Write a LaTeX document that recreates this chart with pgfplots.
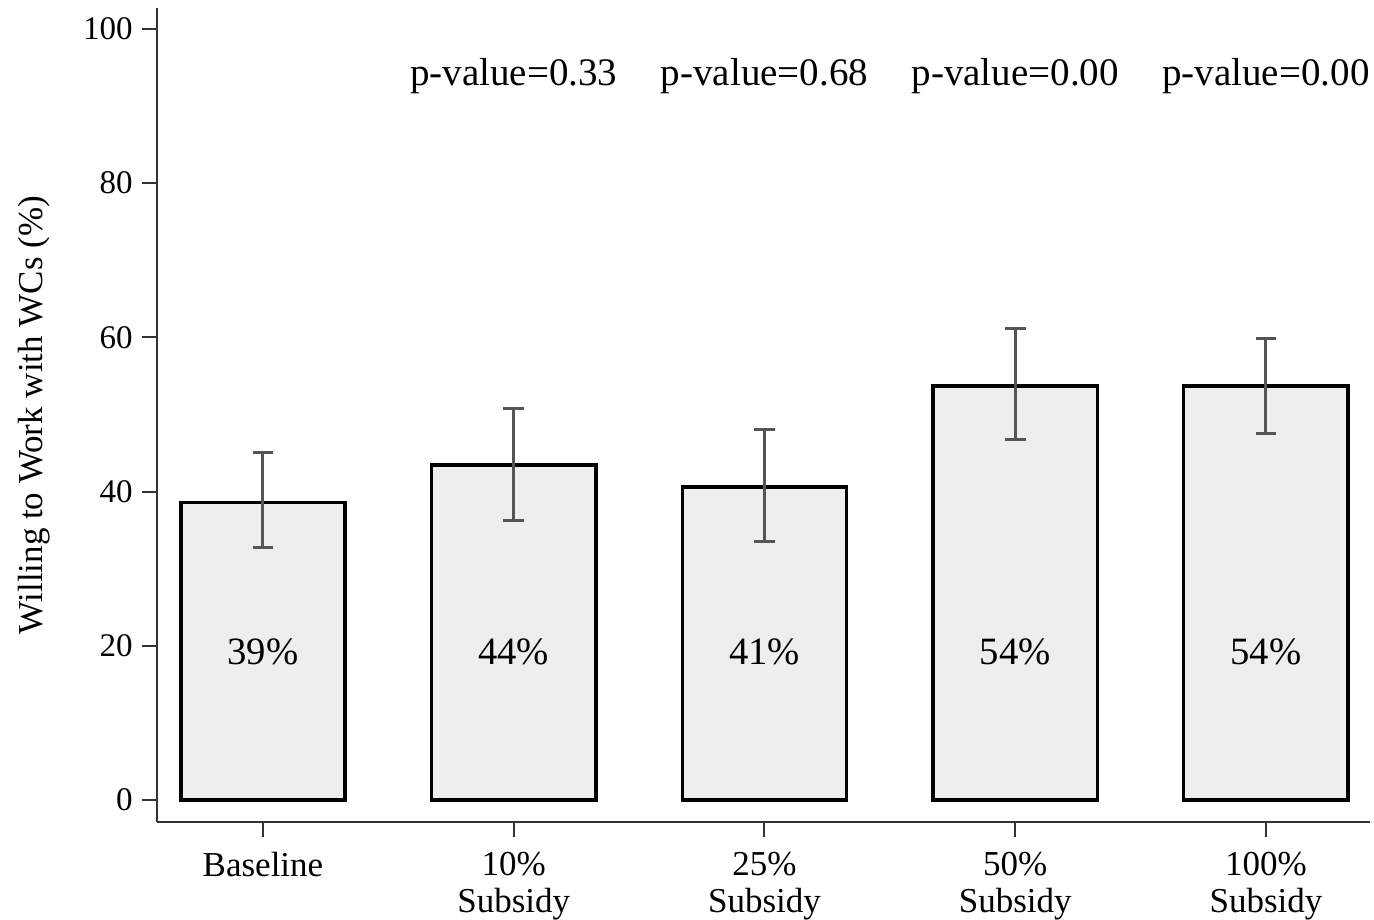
\documentclass[border=0pt]{standalone}
\usepackage{pgfplots}
\pgfplotsset{compat=1.18}
\usepackage{fontspec}
\setmainfont{Liberation Serif}
\definecolor{barfill}{HTML}{EEEEEE}
\definecolor{errc}{HTML}{555555}
\definecolor{axc}{HTML}{333333}
\begin{document}
\begin{tikzpicture}
\path[use as bounding box] (-47.1pt,-29.1pt) rectangle (365.1pt,246.6pt);
\begin{axis}[
  at={(0pt,0pt)}, anchor=south west,
  scale only axis,
  width=363.9pt, height=244.2pt,
  xmin=-0.4227, xmax=4.415,
  ymin=-2.85, ymax=102.7,
  axis x line*=bottom, axis y line*=left,
  axis line style={draw=axc, line width=0.6pt, -},
  tick align=outside,
  major tick length=4.6pt,
  tick style={draw=axc, line width=0.6pt},
  xtick={0,1,2,3,4},
  xticklabels={Baseline,10\%\\Subsidy,25\%\\Subsidy,50\%\\Subsidy,100\%\\Subsidy},
  xticklabel style={align=center, yshift=-0.8pt, font=\fontsize{10.5}{11.2}\selectfont},
  ytick={0,20,40,60,80,100},
  yticklabel style={xshift=0.8pt, font=\fontsize{9.9}{10}\selectfont},
  /pgf/number format/assume math mode=true,
  ylabel={Willing to Work with WCs (\%)},
  every axis y label/.style={at={(axis description cs:0,0.5)}, rotate=90, anchor=center, yshift=37pt, font=\fontsize{10.5}{12}\selectfont},
  clip=false,
]
\addplot[ybar, bar width=0.655, fill=barfill, draw=black, line width=1pt,
  error bars/.cd, y dir=both, y explicit,
  error bar style={draw=errc, line width=0.9pt},
  error mark options={draw=errc, line width=0.9pt, mark size=3.1pt, rotate=90}]
  coordinates {
    (0,38.6) += (0,6.4) -= (0,5.9)
    (1,43.45) += (0,7.35) -= (0,7.15)
    (2,40.6) += (0,7.4) -= (0,7.1)
    (3,53.7) += (0,7.4) -= (0,6.9)
    (4,53.7) += (0,6.2) -= (0,6.2)
  };
\foreach \x/\t in {0/39,1/44,2/41,3/54,4/54} {
  \edef\temp{\noexpand\node[anchor=base, font=\noexpand\fontsize{11.6}{12}\noexpand\selectfont] at (axis cs:\x,17.6) {\t\noexpand\%};}
  \temp
}
\foreach \x/\t in {1/0.33,2/0.68,3/0.00,4/0.00} {
  \edef\temp{\noexpand\node[anchor=base, font=\noexpand\fontsize{11.7}{12}\noexpand\selectfont] at (axis cs:\x,92.7) {p-value=\t};}
  \temp
}
\end{axis}
\end{tikzpicture}
\end{document}
